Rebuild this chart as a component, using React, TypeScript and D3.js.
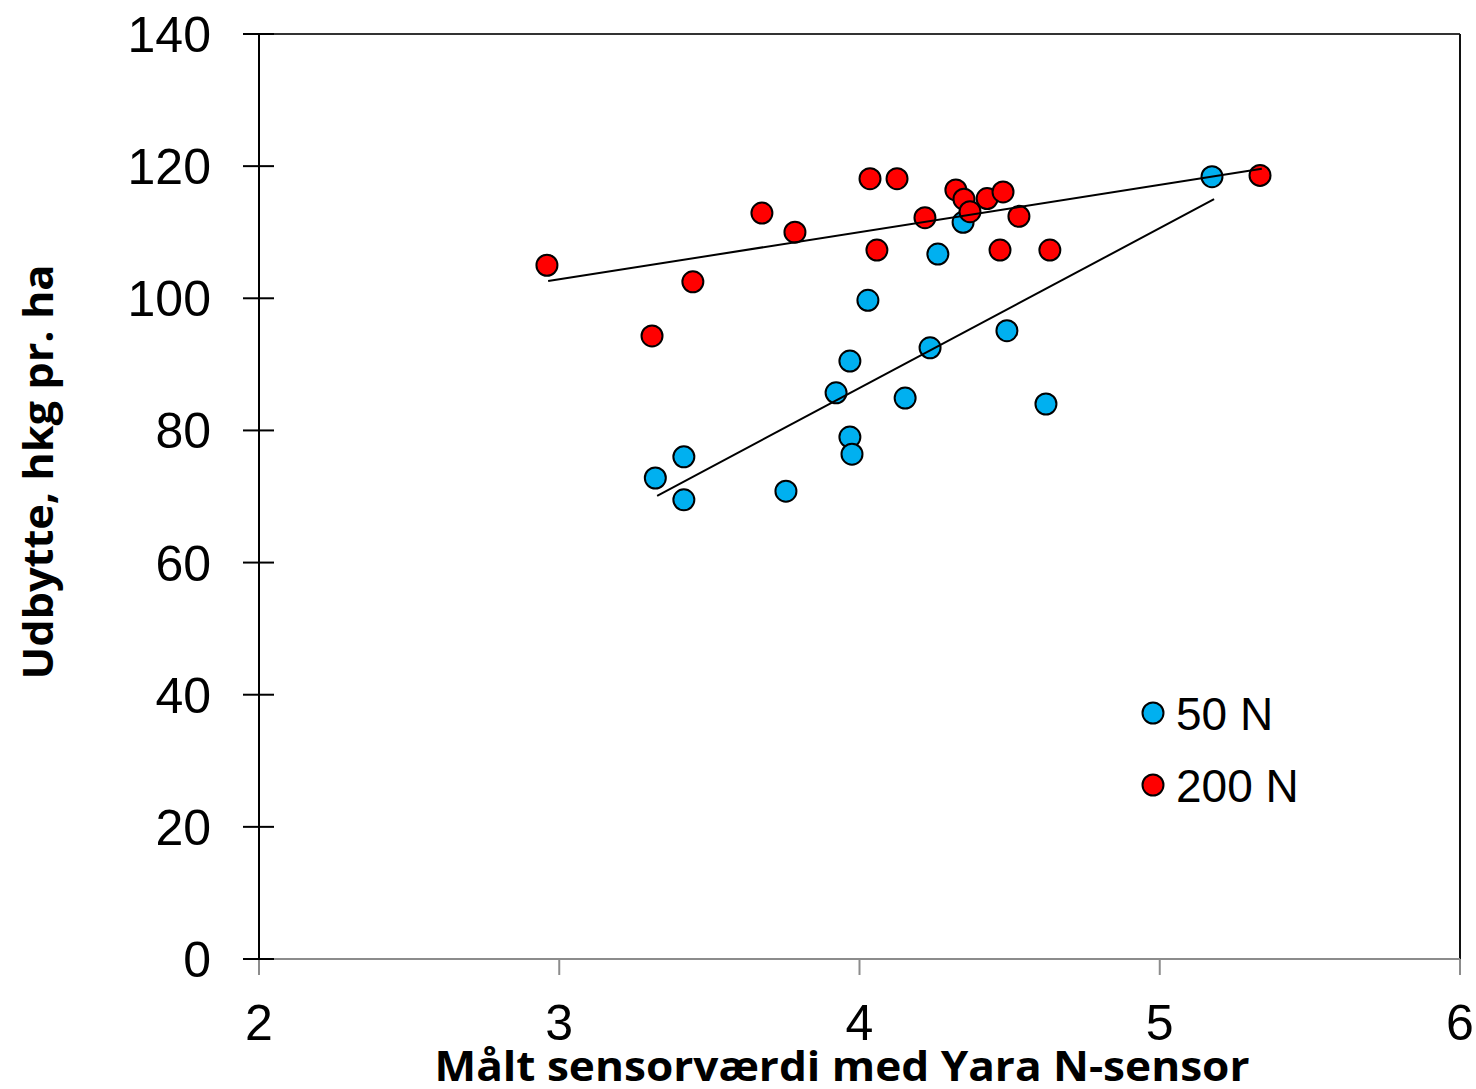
import React, { useEffect, useRef } from 'react';
import * as d3 from 'd3';

// sensor value / yield
const blueX = [3.32, 3.415, 3.415, 3.755, 3.922, 3.968, 3.968, 3.975, 4.028, 4.152, 4.235, 4.261, 4.345, 4.491, 4.621, 5.174];
const blueY = [72.8, 76.0, 69.5, 70.8, 85.7, 90.5, 79.0, 76.4, 99.7, 84.9, 92.5, 106.7, 111.5, 95.1, 84.0, 118.4];
const redX = [2.959, 3.445, 3.309, 3.675, 3.785, 4.035, 4.125, 4.058, 4.218, 4.321, 4.348, 4.368, 4.425, 4.478, 4.531, 4.468, 4.634, 5.334];
const redY = [105.0, 102.5, 94.3, 112.9, 110.0, 118.1, 118.1, 107.3, 112.2, 116.4, 115.0, 113.1, 115.1, 116.1, 112.4, 107.3, 107.3, 118.6];

// trend line ends [x, y]
const blueTrend = [[3.326, 70.1], [5.181, 115.0]];
const redTrend = [[2.963, 102.6], [5.34, 119.6]];

const xTicks = [2, 3, 4, 5, 6];
const yTicks = [0, 20, 40, 60, 80, 100, 120, 140];
const seriesNames = ['50 N', '200 N'];
const colors = ['#00B0F0', '#FF0000'];

const App = () => {
  const svgRef = useRef(null);

  useEffect(() => {
    document.body.style.margin = '0';

    const W = 1476;
    const H = 1089;
    const margin = { top: 34, right: 16, bottom: 130, left: 259 };
    const width = W - margin.left - margin.right;
    const height = H - margin.top - margin.bottom;

    const svgEl = d3.select(svgRef.current);
    svgEl.selectAll('*').remove();
    svgEl.attr('width', W).attr('height', H).style('display', 'block').style('background', '#fff');

    const g = svgEl.append('g').attr('transform', `translate(${margin.left},${margin.top})`);

    const x = d3.scaleLinear().domain([2, 6]).range([0, width]);
    const y = d3.scaleLinear().domain([0, 140]).range([height, 0]);

    const font = 'Arial, "Liberation Sans", sans-serif';

    // frame: top and right
    g.append('line').attr('x1', 0).attr('x2', width).attr('y1', 0).attr('y2', 0)
      .attr('stroke', '#333').attr('stroke-width', 2);
    g.append('line').attr('x1', width).attr('x2', width).attr('y1', 0).attr('y2', height)
      .attr('stroke', '#111').attr('stroke-width', 2);

    // x axis (gray)
    g.append('line').attr('x1', 0).attr('x2', width).attr('y1', height).attr('y2', height)
      .attr('stroke', '#8c8c8c').attr('stroke-width', 2);
    xTicks.forEach(t => {
      g.append('line').attr('x1', x(t)).attr('x2', x(t)).attr('y1', height).attr('y2', height + 16)
        .attr('stroke', '#8c8c8c').attr('stroke-width', 2);
      g.append('text').attr('x', x(t)).attr('y', height + 81)
        .attr('text-anchor', 'middle').style('font-family', font).style('font-size', '50px')
        .attr('fill', '#000').text(t);
    });

    // y axis (black, ticks cross the line)
    g.append('line').attr('x1', 0).attr('x2', 0).attr('y1', 0).attr('y2', height)
      .attr('stroke', '#000').attr('stroke-width', 2);
    yTicks.forEach(t => {
      g.append('line').attr('x1', -16).attr('x2', 15).attr('y1', y(t)).attr('y2', y(t))
        .attr('stroke', '#000').attr('stroke-width', 2);
      g.append('text').attr('x', -48).attr('y', y(t)).attr('dy', '0.36em')
        .attr('text-anchor', 'end').style('font-family', font).style('font-size', '50px')
        .attr('fill', '#000').text(t);
    });

    // points: blue first, red on top
    const series = [
      blueX.map((v, i) => [v, blueY[i]]),
      redX.map((v, i) => [v, redY[i]]),
    ];
    series.forEach((pts, s) => {
      g.append('g').selectAll('circle').data(pts).enter().append('circle')
        .attr('cx', d => x(d[0])).attr('cy', d => y(d[1])).attr('r', 10.5)
        .attr('fill', colors[s]).attr('stroke', '#000').attr('stroke-width', 2);
    });

    // trend lines
    const lineGen = d3.line().x(d => x(d[0])).y(d => y(d[1]));
    [blueTrend, redTrend].forEach(tr => {
      g.append('path').attr('d', lineGen(tr)).attr('fill', 'none')
        .attr('stroke', '#000').attr('stroke-width', 2);
    });

    // legend
    seriesNames.forEach((name, i) => {
      const ly = 679 + i * 72;
      g.append('circle').attr('cx', 894).attr('cy', ly).attr('r', 10.5)
        .attr('fill', colors[i]).attr('stroke', '#000').attr('stroke-width', 2);
      g.append('text').attr('x', 917).attr('y', ly).attr('dy', '0.36em')
        .style('font-family', font).style('font-size', '46px').attr('fill', '#000').text(name);
    });

    // axis titles
    svgEl.append('text').attr('x', 842).attr('y', 1081).attr('text-anchor', 'middle')
      .style('font-family', '"Open Sans", sans-serif').style('font-weight', 'bold').style('font-size', '41px')
      .attr('textLength', 815).attr('lengthAdjust', 'spacingAndGlyphs')
      .attr('fill', '#000').text('Målt sensorværdi med Yara N-sensor');

    svgEl.append('text').attr('transform', 'translate(53,472) rotate(-90)').attr('text-anchor', 'middle')
      .style('font-family', '"Open Sans", sans-serif').style('font-weight', 'bold').style('font-size', '41px')
      .attr('textLength', 415).attr('lengthAdjust', 'spacingAndGlyphs')
      .attr('fill', '#000').text('Udbytte, hkg pr. ha');
  }, []);

  return <svg ref={svgRef}></svg>;
};

export default App;
